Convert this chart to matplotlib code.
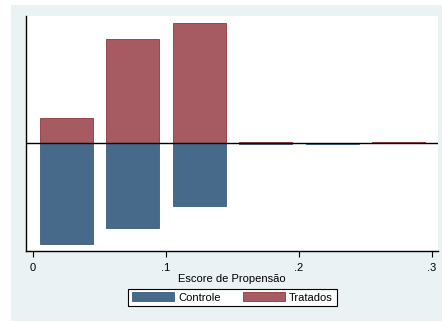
import matplotlib
matplotlib.use('Agg')
from matplotlib import pyplot as plt
from matplotlib.patches import Rectangle
import numpy as np

# histograma espelhado do escore de propensao (densidade por faixa)
bin_centers = [0.025, 0.075, 0.125, 0.175, 0.225, 0.275]
tratados = [1.99, 8.27, 9.54, 0.10, 0.02, 0.08]
controle = [8.06, 6.80, 4.98, 0.05, 0.08, 0.0]
xticks = [0, 0.1, 0.2, 0.3]
xticklabels = ['0', '.1', '.2', '.3']

bg = '#EAF2F3'
red = '#A55B61'
red_edge = '#93343D'
blue = '#476A8B'
blue_edge = '#3A5D7E'

fig = plt.figure(figsize=(4.42, 3.22), dpi=100)
fig.patch.set_facecolor('white')
fig.patches.append(Rectangle((11 / 442, 1 / 322), 431 / 442, 316 / 322,
                             transform=fig.transFigure, facecolor=bg,
                             edgecolor='none', zorder=-5))

ax = fig.add_axes([26 / 442, 71 / 322, 412 / 442, 235 / 322])
ax.set_facecolor('white')

w = 0.04
ax.bar(bin_centers, tratados, width=w, color=red, edgecolor=red_edge,
       linewidth=0.6, label='Tratados', zorder=2)
ax.bar(bin_centers, [-v for v in controle], width=w, color=blue,
       edgecolor=blue_edge, linewidth=0.6, label='Controle', zorder=2)
ax.axhline(0, color='black', linewidth=1.0, zorder=3)

ax.set_xlim(-0.00526, 0.3045)
ax.set_ylim(-8.6, 10.1)

for s in ['top', 'right']:
    ax.spines[s].set_visible(False)
ax.spines['left'].set_linewidth(1.0)
ax.spines['bottom'].set_linewidth(1.0)
ax.set_yticks([])
ax.set_xticks(xticks)
ax.set_xticklabels(xticklabels, fontsize=8, fontfamily='Liberation Sans')
ax.tick_params(axis='x', direction='out', length=4, width=0.8, pad=4.5)
ax.set_xlabel('Escore de Propensão', fontsize=8, fontfamily='Liberation Sans',
              labelpad=1)

h, l = ax.get_legend_handles_labels()
leg = fig.legend([h[1], h[0]], [l[1], l[0]], loc='center',
                 bbox_to_anchor=(0.526, 0.076), ncol=2, frameon=True,
                 fancybox=False, edgecolor='black', framealpha=1,
                 prop={'family': 'Liberation Sans', 'size': 8},
                 handlelength=3.8, handleheight=0.8, handletextpad=0.35,
                 columnspacing=2.0, borderpad=0.35, borderaxespad=0)
leg.get_frame().set_linewidth(0.8)

fig.savefig('out.png', dpi=100, facecolor=fig.get_facecolor())
